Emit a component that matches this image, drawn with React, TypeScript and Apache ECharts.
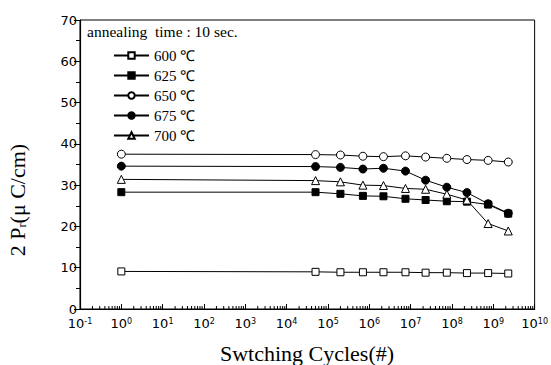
import React, { useEffect, useRef } from "react";
import * as echarts from "echarts";

const cycles = [1, 5e4, 2e5, 7e5, 2.2e6, 7.5e6, 2.3e7, 7.5e7, 2.3e8, 7.5e8, 2.3e9];
const s600 = [9.1, 9.0, 8.9, 8.9, 8.9, 8.9, 8.8, 8.8, 8.7, 8.7, 8.6];
const s625 = [28.3, 28.3, 27.9, 27.4, 27.3, 26.7, 26.4, 26.1, 26.0, 25.3, 23.1];
const s650 = [37.5, 37.4, 37.3, 37.0, 36.9, 37.1, 36.8, 36.5, 36.2, 36.0, 35.6];
const s675 = [34.6, 34.5, 34.3, 33.9, 34.1, 33.4, 31.2, 29.5, 28.2, 25.5, 23.2];
const s700 = [31.4, 31.1, 30.8, 30.0, 29.9, 29.2, 29.0, 27.8, 26.4, 20.7, 18.9];
const seriesNames = ["600 ℃", "625 ℃", "650 ℃", "675 ℃", "700 ℃"];
const yTicks = [0, 10, 20, 30, 40, 50, 60, 70];
const xMinExp = -1;
const xMaxExp = 10;

const serif = "Liberation Serif";
const sans = "DejaVu Sans";

export default function App() {
  const ref = useRef<HTMLDivElement>(null);
  useEffect(() => {
    if (!ref.current) return;
    const chart = echarts.init(ref.current, null, { renderer: "svg" });

    const minorVals: number[][] = [];
    for (let e = xMinExp; e < xMaxExp; e++) {
      for (let k = 2; k <= 9; k++) minorVals.push([k * Math.pow(10, e), 0]);
    }

    const mk = (name: string, vals: number[], symbol: string, filled: boolean, size: number) => ({
      name,
      type: "line",
      data: cycles.map((c, i) => [c, vals[i]]),
      symbol,
      symbolSize: size,
      showSymbol: true,
      lineStyle: { color: "#000", width: 1 },
      itemStyle: filled
        ? { color: "#000", borderColor: "#000", borderWidth: 1 }
        : { color: "#fff", borderColor: "#000", borderWidth: 1 },
      z: 3,
    });

    chart.setOption({
      animation: false,
      backgroundColor: "#fff",
      grid: {
        left: 80,
        right: 16,
        top: 20,
        bottom: 56,
        show: true,
        borderColor: "#000",
        borderWidth: 1,
        containLabel: false,
      },
      xAxis: {
        type: "log",
        logBase: 10,
        min: Math.pow(10, xMinExp),
        max: Math.pow(10, xMaxExp),
        interval: 1,
        splitLine: { show: false },
        axisLine: { show: true, lineStyle: { color: "#000", width: 1.2 } },
        axisTick: { show: true, inside: true, length: 5, lineStyle: { color: "#000" } },
        axisLabel: {
          color: "#000",
          fontFamily: sans,
          fontSize: 13,
          margin: 8,
          formatter: (v: number) => `10{s|${Math.round(Math.log10(v))}}`,
          rich: {
            s: { fontSize: 8, fontFamily: sans, color: "#000", verticalAlign: "top", lineHeight: 9 },
          },
        },
      },
      yAxis: {
        type: "value",
        min: yTicks[0],
        max: yTicks[yTicks.length - 1],
        interval: 10,
        splitLine: { show: false },
        axisLine: { show: true, lineStyle: { color: "#000", width: 1.2 } },
        axisTick: { show: true, inside: false, length: 6, lineStyle: { color: "#000" } },
        minorTick: { show: true, splitNumber: 2, length: 4, lineStyle: { color: "#000" } },
        axisLabel: { color: "#000", fontFamily: sans, fontSize: 13, margin: 3 },
      },
      legend: {
        data: seriesNames,
        orient: "vertical",
        left: 108,
        top: 43,
        itemWidth: 35,
        itemHeight: 8,
        itemGap: 5,
        textStyle: { color: "#000", fontFamily: serif, fontSize: 15, lineHeight: 14 },
      },
      graphic: [
        {
          type: "text",
          left: 87,
          top: 23,
          style: { text: "annealing  time : 10 sec.", fill: "#000", font: `15.5px "${serif}"` },
        },
        {
          type: "text",
          x: 307,
          y: 353,
          style: {
            text: "Swtching Cycles(#)",
            fill: "#000",
            font: `22px "${serif}"`,
            align: "center",
            verticalAlign: "middle",
          },
        },
        {
          type: "text",
          x: 17,
          y: 200,
          rotation: Math.PI / 2,
          style: {
            text: "2 P{sub|r}(μ C/cm)",
            fill: "#000",
            font: `22px "${serif}"`,
            align: "center",
            verticalAlign: "middle",
            rich: {
              sub: { fontSize: 12, fontFamily: serif, fill: "#000", verticalAlign: "bottom", lineHeight: 12 },
            },
          },
        },
      ],
      series: [
        mk(seriesNames[0], s600, "rect", false, 7),
        mk(seriesNames[1], s625, "rect", true, 7),
        mk(seriesNames[2], s650, "circle", false, 8),
        mk(seriesNames[3], s675, "circle", true, 8),
        mk(seriesNames[4], s700, "triangle", false, 8),
        {
          type: "custom",
          silent: true,
          clip: false,
          z: 5,
          data: minorVals,
          renderItem: (_p: any, api: any) => {
            const pt = api.coord([api.value(0), 0]);
            return {
              type: "line",
              shape: { x1: pt[0], y1: pt[1], x2: pt[0], y2: pt[1] - 3 },
              style: { stroke: "#000", lineWidth: 1 },
            };
          },
        },
      ],
    });
    return () => chart.dispose();
  }, []);
  return <div ref={ref} style={{ position: "absolute", left: 0, top: 0, width: 551, height: 365 }} />;
}
